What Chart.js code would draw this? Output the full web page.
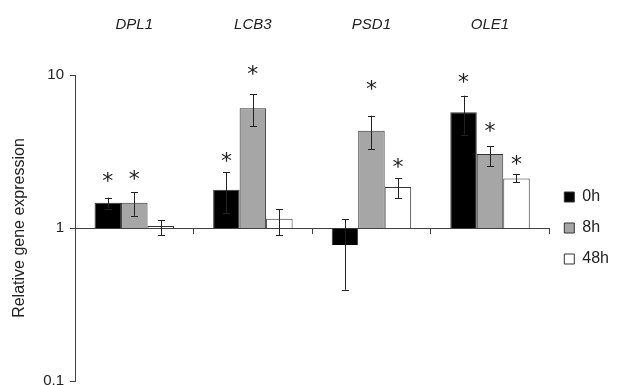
<!DOCTYPE html>
<html>
<head>
<meta charset="utf-8">
<script src="https://cdn.jsdelivr.net/npm/chart.js@4"></script>
<style>
  html, body { margin: 0; padding: 0; background: #fff; }
  #wrap { width: 619px; height: 385px; }
</style>
</head>
<body>
<div id="wrap"><canvas id="chart" width="619" height="385"></canvas></div>
<script>
const categories = ["DPL1", "LCB3", "PSD1", "OLE1"];
const seriesNames = ["0h", "8h", "48h"];
const seriesColors = ["#000000", "#a6a6a6", "#ffffff"];

// bar heights (relative expression, bars start at 1)
const values0h = [1.46, 1.78, 0.774, 5.7];
const values8h = [1.46, 6.06, 4.32, 3.05];
const values48h = [1.03, 1.15, 1.85, 2.11];

// error bar ends
const errHigh0h = [1.58, 2.31, 1.14, 7.32];
const errLow0h = [1.34, 1.25, 0.395, 4.08];
const errHigh8h = [1.72, 7.48, 5.42, 3.42];
const errLow8h = [1.20, 4.64, 3.28, 2.53];
const errHigh48h = [1.12, 1.33, 2.12, 2.24];
const errLow48h = [0.90, 0.90, 1.57, 1.99];

// asterisk positions (null = no asterisk)
const star0h = [2.20, 2.97, null, 9.7];
const star8h = [2.25, 10.9, 8.73, 4.64];
const star48h = [null, null, 2.70, 2.83];

const yTicks = [0.1, 1, 10];

const axisColor = "#404040";
const values = [values0h, values8h, values48h];
const errHigh = [errHigh0h, errHigh8h, errHigh48h];
const errLow = [errLow0h, errLow8h, errLow48h];
const stars = [star0h, star8h, star48h];

const errorBars = {
  id: "errorBars",
  afterDatasetsDraw(chart) {
    const ctx = chart.ctx;
    const y = chart.scales.y;
    ctx.save();
    ctx.strokeStyle = "#222";
    ctx.lineWidth = 1;
    chart.data.datasets.forEach((ds, i) => {
      const meta = chart.getDatasetMeta(i);
      meta.data.forEach((bar, j) => {
        const x = Math.round(bar.x) + 0.5;
        const top = y.getPixelForValue(errHigh[i][j]);
        const bot = y.getPixelForValue(errLow[i][j]);
        ctx.beginPath();
        ctx.moveTo(x, top);
        ctx.lineTo(x, bot);
        ctx.moveTo(x - 3.5, Math.round(top) + 0.5);
        ctx.lineTo(x + 3.5, Math.round(top) + 0.5);
        ctx.moveTo(x - 3.5, Math.round(bot) + 0.5);
        ctx.lineTo(x + 3.5, Math.round(bot) + 0.5);
        ctx.stroke();
      });
    });
    ctx.restore();
  },
  afterDraw(chart) {
    const ctx = chart.ctx;
    const y = chart.scales.y;
    ctx.save();
    ctx.fillStyle = "#222";
    ctx.font = "22px 'DejaVu Sans'";
    ctx.textAlign = "center";
    ctx.textBaseline = "alphabetic";
    chart.data.datasets.forEach((ds, i) => {
      const meta = chart.getDatasetMeta(i);
      meta.data.forEach((bar, j) => {
        const s = stars[i][j];
        if (s === null) return;
        ctx.fillText("*", bar.x, y.getPixelForValue(s) + 12);
      });
    });
    ctx.restore();
  }
};

new Chart(document.getElementById("chart"), {
  type: "bar",
  data: {
    labels: categories,
    datasets: seriesNames.map((name, i) => ({
      label: name,
      data: values[i].map(v => [1, v]),
      backgroundColor: seriesColors[i],
      borderColor: "#333",
      borderWidth: 1,
      categoryPercentage: 0.67,
      barPercentage: 1.0,
      xAxisID: "x"
    }))
  },
  options: {
    responsive: false,
    animation: false,
    layout: { padding: { left: 0, right: 0, top: 0, bottom: 0 } },
    scales: {
      x: {
        type: "category",
        position: { y: 1 },
        offset: true,
        grid: { offset: true, drawOnChartArea: false, drawTicks: true, tickLength: 5, color: axisColor },
        border: { display: true, color: axisColor, width: 1 },
        ticks: { display: false }
      },
      x2: {
        type: "category",
        labels: categories,
        position: "top",
        offset: true,
        grid: { display: false, drawTicks: false },
        border: { display: false },
        ticks: {
          padding: 41,
          color: "#222",
          font: { family: "'Liberation Sans', Arial", size: 15, style: "italic" }
        },
        afterFit: s => { s.height = 75; }
      },
      y: {
        type: "logarithmic",
        min: 0.1,
        max: 10,
        afterBuildTicks: s => { s.ticks = yTicks.map(v => ({ value: v })); },
        ticks: {
          callback: v => String(v),
          color: "#222",
          padding: 6,
          font: { family: "'Liberation Sans', Arial", size: 15 }
        },
        grid: { drawOnChartArea: false, drawTicks: true, tickLength: 5, color: axisColor },
        border: { display: true, color: axisColor, width: 1 },
        title: {
          display: true,
          text: "Relative gene expression",
          color: "#222",
          padding: { top: 10, bottom: 0 },
          font: { family: "'Liberation Sans', Arial", size: 16 }
        },
        afterFit: s => { s.width = 75; s.paddingBottom = 4; }
      }
    },
    plugins: {
      legend: {
        position: "right",
        fullSize: false,
        labels: {
          boxWidth: 10,
          boxHeight: 10,
          padding: 15,
          color: "#222",
          font: { family: "'Liberation Sans', Arial", size: 16 }
        }
      },
      tooltip: { enabled: false }
    }
  },
  plugins: [errorBars]
});
</script>
</body>
</html>
